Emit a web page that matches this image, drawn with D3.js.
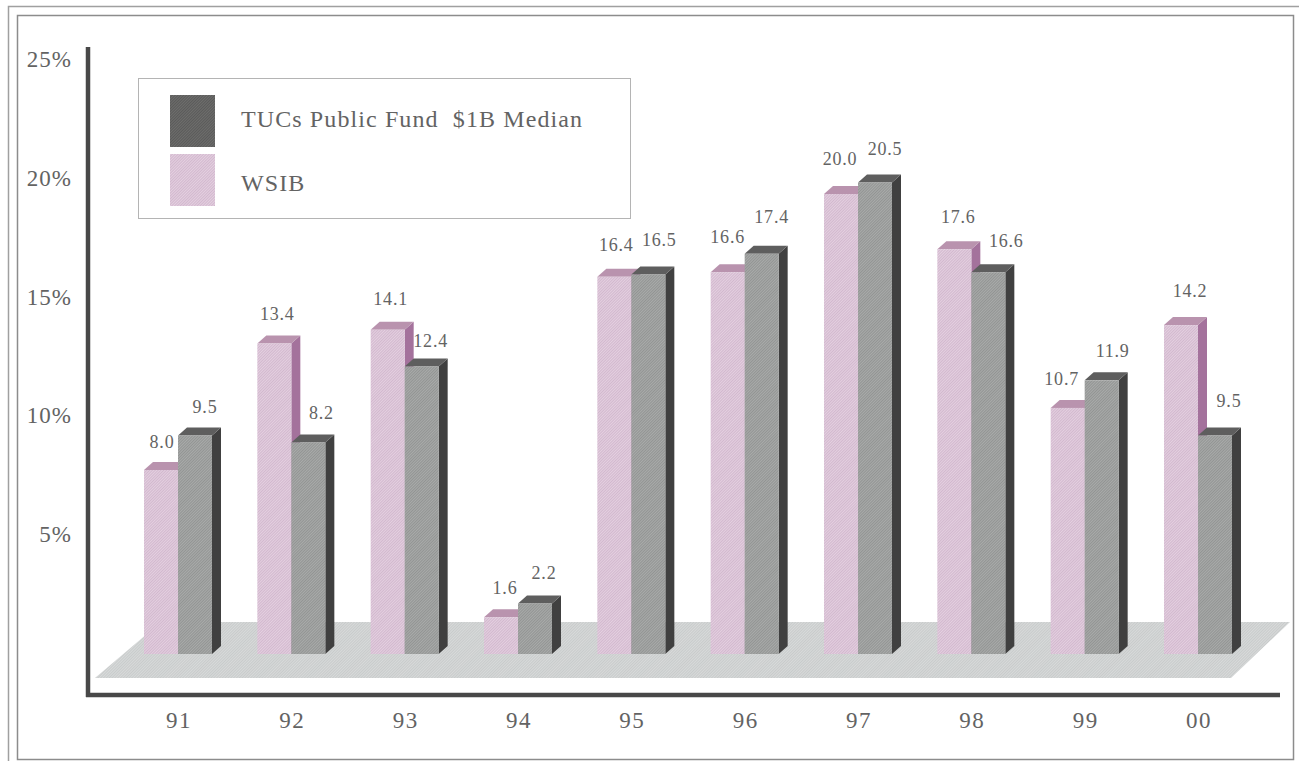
<!DOCTYPE html>
<html>
<head>
<meta charset="utf-8">
<script src="https://cdn.jsdelivr.net/npm/d3@7"></script>
<style>
  html, body { margin: 0; padding: 0; background: #fff; }
  svg { display: block; }
  text { font-family: "Liberation Serif", serif; fill: #636363; }
</style>
</head>
<body>
<div class="canvas"></div>
<script>
const years = ['91', '92', '93', '94', '95', '96', '97', '98', '99', '00'];
const seriesNames = ['WSIB', 'TUCs'];
const wsibLabels = [8.0, 13.4, 14.1, 1.6, 16.4, 16.6, 20.0, 17.6, 10.7, 14.2];
const tucsLabels = [9.5, 8.2, 12.4, 2.2, 16.5, 17.4, 20.5, 16.6, 11.9, 9.5];
// heights as printed in the picture, the 92 TUCs bar is taller than its label
const wsibHeights = [8.0, 13.5, 14.1, 1.6, 16.4, 16.6, 20.0, 17.6, 10.7, 14.3];
const tucsHeights = [9.5, 9.2, 12.5, 2.2, 16.5, 17.4, 20.5, 16.6, 11.9, 9.5];
const yTicks = [5, 10, 15, 20, 25];
const legendItems = [
  { name: 'TUCs Public Fund  $1B Median', fill: 'url(#hatchLegend)' },
  { name: 'WSIB', fill: 'url(#hatchPink)' }
];

// hand placed labels in the original, nudges from the bar centre / default height
const wsibNudgeX = [1, 3, 3, 4, 2, 0, -1, 4, -6, 9];
const wsibNudgeY = [3, 1, 0, 2, -1, -4, -4, -1, 2, -3];
const tucsNudgeX = [10, 13, 9, 9, 11, 10, 10, 18, 11, 14];
const tucsNudgeY = [2, 2, 5, 1, -4, -6, -3, 0, 2, -4];

const depthX = 9;
const depthY = 8;

const svg = d3.select('.canvas').append('svg')
  .attr('width', 1299)
  .attr('height', 761);

// dithered print look
const defs = svg.append('defs');
function hatch(id, base, line) {
  const p = defs.append('pattern')
    .attr('id', id)
    .attr('width', 2)
    .attr('height', 2)
    .attr('patternUnits', 'userSpaceOnUse')
    .attr('patternTransform', 'rotate(45)');
  p.append('rect').attr('width', 2).attr('height', 2).attr('fill', base);
  p.append('rect').attr('width', 1).attr('height', 2).attr('fill', line);
}
hatch('hatchPink', '#e4d0e0', '#d2b8ce');
hatch('hatchGray', '#a9abaa', '#929493');
hatch('hatchLegend', '#6e6e6c', '#5a5a5a');
hatch('hatchFloor', '#d8dada', '#c8cbcb');

// double frame, the outer one runs off the page
svg.append('path')
  .attr('d', 'M8.5,761 L8.5,6.5 L1299,6.5')
  .attr('fill', 'none')
  .attr('stroke', '#a0a0a0')
  .attr('stroke-width', 1.5);
svg.append('rect')
  .attr('x', 17.5).attr('y', 15.5)
  .attr('width', 1276).attr('height', 744)
  .attr('fill', '#fff')
  .attr('stroke', '#8c8c8c')
  .attr('stroke-width', 1.5);

// scales
const x = d3.scaleBand().domain(years).range([144, 1232]).paddingInner(0.4).paddingOuter(0);
const xSeries = d3.scaleBand().domain(seriesNames).range([0, x.bandwidth()]);
const barY = d3.scaleLinear().domain([0, 20.5]).range([654, 182.5]);
const tickY = d3.scaleLinear().domain([0, 25]).range([652.5, 59.5]);

// floor
svg.append('path')
  .attr('d', 'M95,678 L161,622 L1290,622 L1231,678 Z')
  .attr('fill', 'url(#hatchFloor)');

// axes
const xAxisGroup = svg.append('g')
  .attr('transform', 'translate(1, 703)')
  .call(d3.axisBottom(x).tickSize(0).tickPadding(9));
const yAxisGroup = svg.append('g')
  .attr('transform', 'translate(72, 0)')
  .call(d3.axisLeft(tickY).tickValues(yTicks).tickSize(0).tickPadding(0).tickFormat(d => d + '%'));
xAxisGroup.select('.domain').remove();
yAxisGroup.select('.domain').remove();
xAxisGroup.selectAll('text').style('font-size', '23px').style('letter-spacing', '1.5px');
yAxisGroup.selectAll('text').style('font-size', '23px').style('letter-spacing', '1px');

svg.append('line')
  .attr('x1', 88).attr('x2', 88).attr('y1', 47).attr('y2', 697)
  .attr('stroke', '#484848').attr('stroke-width', 4.5);
svg.append('line')
  .attr('x1', 86).attr('x2', 1280).attr('y1', 695).attr('y2', 695)
  .attr('stroke', '#484848').attr('stroke-width', 4.5);

// bars
const styles = {
  WSIB: { front: 'url(#hatchPink)', top: '#b993ae', side: '#a4729c' },
  TUCs: { front: 'url(#hatchGray)', top: '#5e5e5e', side: '#404040' }
};

function drawBars(name, heights) {
  const w = xSeries.bandwidth();
  const g = svg.append('g').attr('class', 'series-' + name);
  const bars = g.selectAll('g').data(years).enter().append('g')
    .attr('transform', d => `translate(${x(d) + xSeries(name)}, 0)`);
  const base = barY(0);

  bars.append('path')
    .attr('fill', styles[name].side)
    .attr('d', (d, i) => {
      const t = barY(heights[i]);
      return `M${w},${t} L${w + depthX},${t - depthY} L${w + depthX},${base - depthY} L${w},${base} Z`;
    });
  bars.append('path')
    .attr('fill', styles[name].top)
    .attr('d', (d, i) => {
      const t = barY(heights[i]);
      return `M0,${t} L${depthX},${t - depthY} L${w + depthX},${t - depthY} L${w},${t} Z`;
    });
  bars.append('rect')
    .attr('x', 0)
    .attr('width', w)
    .attr('y', (d, i) => barY(heights[i]))
    .attr('height', (d, i) => base - barY(heights[i]))
    .attr('fill', styles[name].front);
}
drawBars('WSIB', wsibHeights);
drawBars('TUCs', tucsHeights);

// value labels
function drawLabels(name, heights, labels, nudgeX, nudgeY) {
  svg.append('g').selectAll('text').data(years).enter().append('text')
    .attr('x', (d, i) => x(d) + xSeries(name) + xSeries.bandwidth() / 2 + nudgeX[i])
    .attr('y', (d, i) => barY(heights[i]) - 25 + nudgeY[i])
    .attr('text-anchor', 'middle')
    .style('font-size', '18px')
    .style('letter-spacing', '0.8px')
    .text((d, i) => labels[i].toFixed(1));
}
drawLabels('WSIB', wsibHeights, wsibLabels, wsibNudgeX, wsibNudgeY);
drawLabels('TUCs', tucsHeights, tucsLabels, tucsNudgeX, tucsNudgeY);

// legend
const legend = svg.append('g').attr('transform', 'translate(138, 78)');
legend.append('rect')
  .attr('x', 0.5).attr('y', 0.5)
  .attr('width', 492).attr('height', 140)
  .attr('fill', '#fff')
  .attr('stroke', '#b4b4b4');
const legendRows = legend.selectAll('g').data(legendItems).enter().append('g')
  .attr('transform', (d, i) => `translate(0, ${17 + i * 59})`);
legendRows.append('rect')
  .attr('x', 32).attr('width', 45).attr('height', 52)
  .attr('fill', d => d.fill);
legendRows.append('text')
  .attr('x', 103)
  .attr('y', (d, i) => 32 + i * 5)
  .attr('xml:space', 'preserve')
  .style('white-space', 'pre')
  .style('font-size', '24px')
  .style('letter-spacing', '1.1px')
  .text(d => d.name);
</script>
</body>
</html>
